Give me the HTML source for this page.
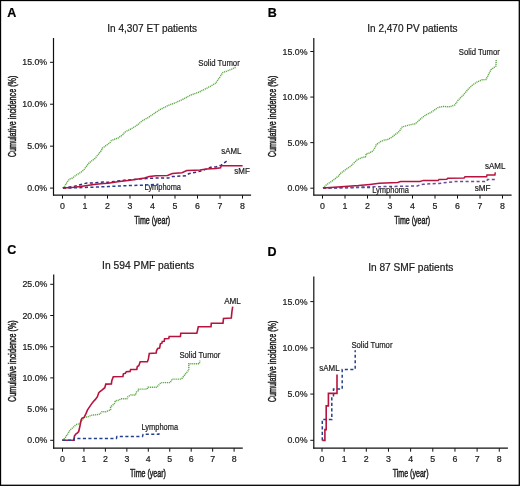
<!DOCTYPE html>
<html><head><meta charset="utf-8"><style>
html,body{margin:0;padding:0;background:#fff;}
svg{display:block;font-family:"Liberation Sans", sans-serif;-webkit-font-smoothing:antialiased;will-change:transform;}
</style></head><body>
<svg width="520" height="486" viewBox="0 0 520 486">
<rect x="0" y="0" width="520" height="486" fill="#fff"/>
<text x="7.3" y="16.8" font-size="12.5" text-anchor="start" fill="#000" font-weight="bold" stroke="#000" stroke-width="0.2">A</text>
<text x="107.3" y="31.9" font-size="10.1" text-anchor="start" fill="#1a1a1a" font-weight="normal" textLength="89.8" lengthAdjust="spacingAndGlyphs" stroke="#1a1a1a" stroke-width="0.2">In 4,307 ET patients</text>
<line x1="53.5" y1="38" x2="53.5" y2="195.6" stroke="#111" stroke-width="1.2"/>
<line x1="53.0" y1="195.1" x2="251.1" y2="195.1" stroke="#111" stroke-width="1.2"/>
<line x1="50.0" y1="188.1" x2="53.5" y2="188.1" stroke="#111" stroke-width="1.0"/>
<text x="47.2" y="191.2" font-size="8.8" text-anchor="end" fill="#1a1a1a" font-weight="normal" stroke="#1a1a1a" stroke-width="0.2">0.0%</text>
<line x1="50.0" y1="146.16666666666666" x2="53.5" y2="146.16666666666666" stroke="#111" stroke-width="1.0"/>
<text x="47.2" y="149.26666666666665" font-size="8.8" text-anchor="end" fill="#1a1a1a" font-weight="normal" stroke="#1a1a1a" stroke-width="0.2">5.0%</text>
<line x1="50.0" y1="104.23333333333332" x2="53.5" y2="104.23333333333332" stroke="#111" stroke-width="1.0"/>
<text x="47.2" y="107.33333333333331" font-size="8.8" text-anchor="end" fill="#1a1a1a" font-weight="normal" stroke="#1a1a1a" stroke-width="0.2">10.0%</text>
<line x1="50.0" y1="62.3" x2="53.5" y2="62.3" stroke="#111" stroke-width="1.0"/>
<text x="47.2" y="65.39999999999999" font-size="8.8" text-anchor="end" fill="#1a1a1a" font-weight="normal" stroke="#1a1a1a" stroke-width="0.2">15.0%</text>
<line x1="62.5" y1="195.1" x2="62.5" y2="198.6" stroke="#111" stroke-width="1.0"/>
<text x="62.5" y="209.2" font-size="8.8" text-anchor="middle" fill="#1a1a1a" font-weight="normal" stroke="#1a1a1a" stroke-width="0.2">0</text>
<line x1="85.0" y1="195.1" x2="85.0" y2="198.6" stroke="#111" stroke-width="1.0"/>
<text x="85.0" y="209.2" font-size="8.8" text-anchor="middle" fill="#1a1a1a" font-weight="normal" stroke="#1a1a1a" stroke-width="0.2">1</text>
<line x1="107.5" y1="195.1" x2="107.5" y2="198.6" stroke="#111" stroke-width="1.0"/>
<text x="107.5" y="209.2" font-size="8.8" text-anchor="middle" fill="#1a1a1a" font-weight="normal" stroke="#1a1a1a" stroke-width="0.2">2</text>
<line x1="130.0" y1="195.1" x2="130.0" y2="198.6" stroke="#111" stroke-width="1.0"/>
<text x="130.0" y="209.2" font-size="8.8" text-anchor="middle" fill="#1a1a1a" font-weight="normal" stroke="#1a1a1a" stroke-width="0.2">3</text>
<line x1="152.5" y1="195.1" x2="152.5" y2="198.6" stroke="#111" stroke-width="1.0"/>
<text x="152.5" y="209.2" font-size="8.8" text-anchor="middle" fill="#1a1a1a" font-weight="normal" stroke="#1a1a1a" stroke-width="0.2">4</text>
<line x1="175.0" y1="195.1" x2="175.0" y2="198.6" stroke="#111" stroke-width="1.0"/>
<text x="175.0" y="209.2" font-size="8.8" text-anchor="middle" fill="#1a1a1a" font-weight="normal" stroke="#1a1a1a" stroke-width="0.2">5</text>
<line x1="197.5" y1="195.1" x2="197.5" y2="198.6" stroke="#111" stroke-width="1.0"/>
<text x="197.5" y="209.2" font-size="8.8" text-anchor="middle" fill="#1a1a1a" font-weight="normal" stroke="#1a1a1a" stroke-width="0.2">6</text>
<line x1="220.0" y1="195.1" x2="220.0" y2="198.6" stroke="#111" stroke-width="1.0"/>
<text x="220.0" y="209.2" font-size="8.8" text-anchor="middle" fill="#1a1a1a" font-weight="normal" stroke="#1a1a1a" stroke-width="0.2">7</text>
<line x1="242.5" y1="195.1" x2="242.5" y2="198.6" stroke="#111" stroke-width="1.0"/>
<text x="242.5" y="209.2" font-size="8.8" text-anchor="middle" fill="#1a1a1a" font-weight="normal" stroke="#1a1a1a" stroke-width="0.2">8</text>
<text x="0" y="0" font-size="10.2" text-anchor="middle" fill="#1a1a1a" stroke="#1a1a1a" stroke-width="0.45" textLength="81.6" lengthAdjust="spacingAndGlyphs" transform="translate(16.3,116.4) rotate(-90)">Cumulative incidence (%)</text>
<text x="152.2" y="223.5" font-size="10.2" text-anchor="middle" fill="#1a1a1a" font-weight="normal" textLength="35.9" lengthAdjust="spacingAndGlyphs" stroke="#1a1a1a" stroke-width="0.45">Time (year)</text>
<text x="267.7" y="16.8" font-size="12.5" text-anchor="start" fill="#000" font-weight="bold" stroke="#000" stroke-width="0.2">B</text>
<text x="367.3" y="31.9" font-size="10.1" text-anchor="start" fill="#1a1a1a" font-weight="normal" textLength="90.2" lengthAdjust="spacingAndGlyphs" stroke="#1a1a1a" stroke-width="0.2">In 2,470 PV patients</text>
<line x1="313.8" y1="38" x2="313.8" y2="195.6" stroke="#111" stroke-width="1.2"/>
<line x1="313.3" y1="195.1" x2="511.6" y2="195.1" stroke="#111" stroke-width="1.2"/>
<line x1="310.3" y1="188.2" x2="313.8" y2="188.2" stroke="#111" stroke-width="1.0"/>
<text x="307.5" y="191.29999999999998" font-size="8.8" text-anchor="end" fill="#1a1a1a" font-weight="normal" stroke="#1a1a1a" stroke-width="0.2">0.0%</text>
<line x1="310.3" y1="142.63333333333333" x2="313.8" y2="142.63333333333333" stroke="#111" stroke-width="1.0"/>
<text x="307.5" y="145.73333333333332" font-size="8.8" text-anchor="end" fill="#1a1a1a" font-weight="normal" stroke="#1a1a1a" stroke-width="0.2">5.0%</text>
<line x1="310.3" y1="97.06666666666666" x2="313.8" y2="97.06666666666666" stroke="#111" stroke-width="1.0"/>
<text x="307.5" y="100.16666666666666" font-size="8.8" text-anchor="end" fill="#1a1a1a" font-weight="normal" stroke="#1a1a1a" stroke-width="0.2">10.0%</text>
<line x1="310.3" y1="51.5" x2="313.8" y2="51.5" stroke="#111" stroke-width="1.0"/>
<text x="307.5" y="54.6" font-size="8.8" text-anchor="end" fill="#1a1a1a" font-weight="normal" stroke="#1a1a1a" stroke-width="0.2">15.0%</text>
<line x1="322.5" y1="195.1" x2="322.5" y2="198.6" stroke="#111" stroke-width="1.0"/>
<text x="322.5" y="209.2" font-size="8.8" text-anchor="middle" fill="#1a1a1a" font-weight="normal" stroke="#1a1a1a" stroke-width="0.2">0</text>
<line x1="345.0" y1="195.1" x2="345.0" y2="198.6" stroke="#111" stroke-width="1.0"/>
<text x="345.0" y="209.2" font-size="8.8" text-anchor="middle" fill="#1a1a1a" font-weight="normal" stroke="#1a1a1a" stroke-width="0.2">1</text>
<line x1="367.5" y1="195.1" x2="367.5" y2="198.6" stroke="#111" stroke-width="1.0"/>
<text x="367.5" y="209.2" font-size="8.8" text-anchor="middle" fill="#1a1a1a" font-weight="normal" stroke="#1a1a1a" stroke-width="0.2">2</text>
<line x1="390.0" y1="195.1" x2="390.0" y2="198.6" stroke="#111" stroke-width="1.0"/>
<text x="390.0" y="209.2" font-size="8.8" text-anchor="middle" fill="#1a1a1a" font-weight="normal" stroke="#1a1a1a" stroke-width="0.2">3</text>
<line x1="412.5" y1="195.1" x2="412.5" y2="198.6" stroke="#111" stroke-width="1.0"/>
<text x="412.5" y="209.2" font-size="8.8" text-anchor="middle" fill="#1a1a1a" font-weight="normal" stroke="#1a1a1a" stroke-width="0.2">4</text>
<line x1="435.0" y1="195.1" x2="435.0" y2="198.6" stroke="#111" stroke-width="1.0"/>
<text x="435.0" y="209.2" font-size="8.8" text-anchor="middle" fill="#1a1a1a" font-weight="normal" stroke="#1a1a1a" stroke-width="0.2">5</text>
<line x1="457.5" y1="195.1" x2="457.5" y2="198.6" stroke="#111" stroke-width="1.0"/>
<text x="457.5" y="209.2" font-size="8.8" text-anchor="middle" fill="#1a1a1a" font-weight="normal" stroke="#1a1a1a" stroke-width="0.2">6</text>
<line x1="480.0" y1="195.1" x2="480.0" y2="198.6" stroke="#111" stroke-width="1.0"/>
<text x="480.0" y="209.2" font-size="8.8" text-anchor="middle" fill="#1a1a1a" font-weight="normal" stroke="#1a1a1a" stroke-width="0.2">7</text>
<line x1="502.5" y1="195.1" x2="502.5" y2="198.6" stroke="#111" stroke-width="1.0"/>
<text x="502.5" y="209.2" font-size="8.8" text-anchor="middle" fill="#1a1a1a" font-weight="normal" stroke="#1a1a1a" stroke-width="0.2">8</text>
<text x="0" y="0" font-size="10.2" text-anchor="middle" fill="#1a1a1a" stroke="#1a1a1a" stroke-width="0.45" textLength="81.6" lengthAdjust="spacingAndGlyphs" transform="translate(276.3,116.4) rotate(-90)">Cumulative incidence (%)</text>
<text x="412.2" y="223.5" font-size="10.2" text-anchor="middle" fill="#1a1a1a" font-weight="normal" textLength="35.9" lengthAdjust="spacingAndGlyphs" stroke="#1a1a1a" stroke-width="0.45">Time (year)</text>
<text x="7.3" y="253.7" font-size="12.5" text-anchor="start" fill="#000" font-weight="bold" stroke="#000" stroke-width="0.2">C</text>
<text x="102.10000000000001" y="268.6" font-size="10.1" text-anchor="start" fill="#1a1a1a" font-weight="normal" textLength="92.0" lengthAdjust="spacingAndGlyphs" stroke="#1a1a1a" stroke-width="0.2">In 594 PMF patients</text>
<line x1="53.7" y1="274.5" x2="53.7" y2="448.7" stroke="#111" stroke-width="1.2"/>
<line x1="53.2" y1="448.2" x2="242.8" y2="448.2" stroke="#111" stroke-width="1.2"/>
<line x1="50.2" y1="440.3" x2="53.7" y2="440.3" stroke="#111" stroke-width="1.0"/>
<text x="47.400000000000006" y="443.40000000000003" font-size="8.8" text-anchor="end" fill="#1a1a1a" font-weight="normal" stroke="#1a1a1a" stroke-width="0.2">0.0%</text>
<line x1="50.2" y1="409.1" x2="53.7" y2="409.1" stroke="#111" stroke-width="1.0"/>
<text x="47.400000000000006" y="412.20000000000005" font-size="8.8" text-anchor="end" fill="#1a1a1a" font-weight="normal" stroke="#1a1a1a" stroke-width="0.2">5.0%</text>
<line x1="50.2" y1="377.9" x2="53.7" y2="377.9" stroke="#111" stroke-width="1.0"/>
<text x="47.400000000000006" y="381.0" font-size="8.8" text-anchor="end" fill="#1a1a1a" font-weight="normal" stroke="#1a1a1a" stroke-width="0.2">10.0%</text>
<line x1="50.2" y1="346.7" x2="53.7" y2="346.7" stroke="#111" stroke-width="1.0"/>
<text x="47.400000000000006" y="349.8" font-size="8.8" text-anchor="end" fill="#1a1a1a" font-weight="normal" stroke="#1a1a1a" stroke-width="0.2">15.0%</text>
<line x1="50.2" y1="315.5" x2="53.7" y2="315.5" stroke="#111" stroke-width="1.0"/>
<text x="47.400000000000006" y="318.6" font-size="8.8" text-anchor="end" fill="#1a1a1a" font-weight="normal" stroke="#1a1a1a" stroke-width="0.2">20.0%</text>
<line x1="50.2" y1="284.3" x2="53.7" y2="284.3" stroke="#111" stroke-width="1.0"/>
<text x="47.400000000000006" y="287.40000000000003" font-size="8.8" text-anchor="end" fill="#1a1a1a" font-weight="normal" stroke="#1a1a1a" stroke-width="0.2">25.0%</text>
<line x1="62.5" y1="448.2" x2="62.5" y2="451.7" stroke="#111" stroke-width="1.0"/>
<text x="62.5" y="462.3" font-size="8.8" text-anchor="middle" fill="#1a1a1a" font-weight="normal" stroke="#1a1a1a" stroke-width="0.2">0</text>
<line x1="83.95" y1="448.2" x2="83.95" y2="451.7" stroke="#111" stroke-width="1.0"/>
<text x="83.95" y="462.3" font-size="8.8" text-anchor="middle" fill="#1a1a1a" font-weight="normal" stroke="#1a1a1a" stroke-width="0.2">1</text>
<line x1="105.4" y1="448.2" x2="105.4" y2="451.7" stroke="#111" stroke-width="1.0"/>
<text x="105.4" y="462.3" font-size="8.8" text-anchor="middle" fill="#1a1a1a" font-weight="normal" stroke="#1a1a1a" stroke-width="0.2">2</text>
<line x1="126.85" y1="448.2" x2="126.85" y2="451.7" stroke="#111" stroke-width="1.0"/>
<text x="126.85" y="462.3" font-size="8.8" text-anchor="middle" fill="#1a1a1a" font-weight="normal" stroke="#1a1a1a" stroke-width="0.2">3</text>
<line x1="148.3" y1="448.2" x2="148.3" y2="451.7" stroke="#111" stroke-width="1.0"/>
<text x="148.3" y="462.3" font-size="8.8" text-anchor="middle" fill="#1a1a1a" font-weight="normal" stroke="#1a1a1a" stroke-width="0.2">4</text>
<line x1="169.75" y1="448.2" x2="169.75" y2="451.7" stroke="#111" stroke-width="1.0"/>
<text x="169.75" y="462.3" font-size="8.8" text-anchor="middle" fill="#1a1a1a" font-weight="normal" stroke="#1a1a1a" stroke-width="0.2">5</text>
<line x1="191.2" y1="448.2" x2="191.2" y2="451.7" stroke="#111" stroke-width="1.0"/>
<text x="191.2" y="462.3" font-size="8.8" text-anchor="middle" fill="#1a1a1a" font-weight="normal" stroke="#1a1a1a" stroke-width="0.2">6</text>
<line x1="212.65" y1="448.2" x2="212.65" y2="451.7" stroke="#111" stroke-width="1.0"/>
<text x="212.65" y="462.3" font-size="8.8" text-anchor="middle" fill="#1a1a1a" font-weight="normal" stroke="#1a1a1a" stroke-width="0.2">7</text>
<line x1="234.1" y1="448.2" x2="234.1" y2="451.7" stroke="#111" stroke-width="1.0"/>
<text x="234.1" y="462.3" font-size="8.8" text-anchor="middle" fill="#1a1a1a" font-weight="normal" stroke="#1a1a1a" stroke-width="0.2">8</text>
<text x="0" y="0" font-size="10.2" text-anchor="middle" fill="#1a1a1a" stroke="#1a1a1a" stroke-width="0.45" textLength="81.6" lengthAdjust="spacingAndGlyphs" transform="translate(16.3,361.1) rotate(-90)">Cumulative incidence (%)</text>
<text x="148" y="476.5" font-size="10.2" text-anchor="middle" fill="#1a1a1a" font-weight="normal" textLength="35.9" lengthAdjust="spacingAndGlyphs" stroke="#1a1a1a" stroke-width="0.45">Time (year)</text>
<text x="267.5" y="255.6" font-size="12.5" text-anchor="start" fill="#000" font-weight="bold" stroke="#000" stroke-width="0.2">D</text>
<text x="368.2" y="270.8" font-size="10.1" text-anchor="start" fill="#1a1a1a" font-weight="normal" textLength="85.1" lengthAdjust="spacingAndGlyphs" stroke="#1a1a1a" stroke-width="0.2">In 87 SMF patients</text>
<line x1="313.8" y1="276.4" x2="313.8" y2="448.7" stroke="#111" stroke-width="1.2"/>
<line x1="313.3" y1="448.2" x2="507.9" y2="448.2" stroke="#111" stroke-width="1.2"/>
<line x1="310.3" y1="440.3" x2="313.8" y2="440.3" stroke="#111" stroke-width="1.0"/>
<text x="307.5" y="443.40000000000003" font-size="8.8" text-anchor="end" fill="#1a1a1a" font-weight="normal" stroke="#1a1a1a" stroke-width="0.2">0.0%</text>
<line x1="310.3" y1="394.06666666666666" x2="313.8" y2="394.06666666666666" stroke="#111" stroke-width="1.0"/>
<text x="307.5" y="397.1666666666667" font-size="8.8" text-anchor="end" fill="#1a1a1a" font-weight="normal" stroke="#1a1a1a" stroke-width="0.2">5.0%</text>
<line x1="310.3" y1="347.83333333333337" x2="313.8" y2="347.83333333333337" stroke="#111" stroke-width="1.0"/>
<text x="307.5" y="350.9333333333334" font-size="8.8" text-anchor="end" fill="#1a1a1a" font-weight="normal" stroke="#1a1a1a" stroke-width="0.2">10.0%</text>
<line x1="310.3" y1="301.6" x2="313.8" y2="301.6" stroke="#111" stroke-width="1.0"/>
<text x="307.5" y="304.70000000000005" font-size="8.8" text-anchor="end" fill="#1a1a1a" font-weight="normal" stroke="#1a1a1a" stroke-width="0.2">15.0%</text>
<line x1="322.0" y1="448.2" x2="322.0" y2="451.7" stroke="#111" stroke-width="1.0"/>
<text x="322.0" y="462.3" font-size="8.8" text-anchor="middle" fill="#1a1a1a" font-weight="normal" stroke="#1a1a1a" stroke-width="0.2">0</text>
<line x1="344.16" y1="448.2" x2="344.16" y2="451.7" stroke="#111" stroke-width="1.0"/>
<text x="344.16" y="462.3" font-size="8.8" text-anchor="middle" fill="#1a1a1a" font-weight="normal" stroke="#1a1a1a" stroke-width="0.2">1</text>
<line x1="366.32" y1="448.2" x2="366.32" y2="451.7" stroke="#111" stroke-width="1.0"/>
<text x="366.32" y="462.3" font-size="8.8" text-anchor="middle" fill="#1a1a1a" font-weight="normal" stroke="#1a1a1a" stroke-width="0.2">2</text>
<line x1="388.48" y1="448.2" x2="388.48" y2="451.7" stroke="#111" stroke-width="1.0"/>
<text x="388.48" y="462.3" font-size="8.8" text-anchor="middle" fill="#1a1a1a" font-weight="normal" stroke="#1a1a1a" stroke-width="0.2">3</text>
<line x1="410.64" y1="448.2" x2="410.64" y2="451.7" stroke="#111" stroke-width="1.0"/>
<text x="410.64" y="462.3" font-size="8.8" text-anchor="middle" fill="#1a1a1a" font-weight="normal" stroke="#1a1a1a" stroke-width="0.2">4</text>
<line x1="432.8" y1="448.2" x2="432.8" y2="451.7" stroke="#111" stroke-width="1.0"/>
<text x="432.8" y="462.3" font-size="8.8" text-anchor="middle" fill="#1a1a1a" font-weight="normal" stroke="#1a1a1a" stroke-width="0.2">5</text>
<line x1="454.96000000000004" y1="448.2" x2="454.96000000000004" y2="451.7" stroke="#111" stroke-width="1.0"/>
<text x="454.96000000000004" y="462.3" font-size="8.8" text-anchor="middle" fill="#1a1a1a" font-weight="normal" stroke="#1a1a1a" stroke-width="0.2">6</text>
<line x1="477.12" y1="448.2" x2="477.12" y2="451.7" stroke="#111" stroke-width="1.0"/>
<text x="477.12" y="462.3" font-size="8.8" text-anchor="middle" fill="#1a1a1a" font-weight="normal" stroke="#1a1a1a" stroke-width="0.2">7</text>
<line x1="499.28" y1="448.2" x2="499.28" y2="451.7" stroke="#111" stroke-width="1.0"/>
<text x="499.28" y="462.3" font-size="8.8" text-anchor="middle" fill="#1a1a1a" font-weight="normal" stroke="#1a1a1a" stroke-width="0.2">8</text>
<text x="0" y="0" font-size="10.2" text-anchor="middle" fill="#1a1a1a" stroke="#1a1a1a" stroke-width="0.45" textLength="81.6" lengthAdjust="spacingAndGlyphs" transform="translate(276.3,361.4) rotate(-90)">Cumulative incidence (%)</text>
<text x="410.6" y="476.5" font-size="10.2" text-anchor="middle" fill="#1a1a1a" font-weight="normal" textLength="35.9" lengthAdjust="spacingAndGlyphs" stroke="#1a1a1a" stroke-width="0.45">Time (year)</text>
<path d="M62.9,188.1 L74.4,187.8 L88.8,187.3 L108.0,186.6 L127.2,185.6 L141.7,185.2 L158.4,184.3" fill="none" stroke="#23408c" stroke-width="1.5" stroke-dasharray="3.1 2.4" stroke-linejoin="miter"/>
<path d="M62.8,187.9 L64.8,186.3 L66.9,182.4 L69.4,179.1 L72.5,178.0 L75.2,175.8 L81.8,171.7 L84.2,169.3 L89.2,162.7 L94.9,158.6 L101.5,150.3 L102.3,148.2 L109.7,142.9 L111.4,140.5 L118.0,138.0 L122.9,134.7 L124.6,132.2 L131.1,128.9 L137.7,124.8 L142.0,120.9 L148.1,117.6 L154.1,113.5 L160.2,109.5 L168.3,105.4 L176.3,102.4 L183.4,99.0 L188.5,96.3 L191.5,94.7 L198.6,92.3 L204.6,89.3 L209.7,86.7 L215.7,83.2 L219.8,77.2 L222.8,72.5 L226.8,71.1 L231.9,69.1 L235.9,67.1" fill="none" stroke="#5ea946" stroke-width="1.45" stroke-dasharray="1.15 0.75" stroke-linejoin="miter"/>
<path d="M62.9,188.1 L74.4,186.3 L79.2,184.9 L86.9,183.0 L93.7,183.0 L103.3,182.0 L108.0,182.3 L122.4,180.4 L136.8,179.2 L146.5,178.5 L156.0,178.1 L168.5,178.1 L172.3,176.6 L185.8,175.7 L188.7,173.8 L196.4,172.1 L200.0,171.2 L206.3,169.1 L210.6,167.3 L215.9,167.0 L221.2,165.2 L224.3,162.8 L228.6,159.6" fill="none" stroke="#3e2a7c" stroke-width="1.5" stroke-dasharray="3.1 2.4" stroke-linejoin="miter"/>
<path d="M62.9,188.1 L74.4,187.3 L84.0,185.9 L93.7,184.4 L103.3,183.5 L108.0,183.3 L117.6,181.8 L132.0,179.9 L144.5,178.0 L149.3,176.5 L156.0,175.7 L167.5,175.4 L172.3,173.5 L182.0,172.8 L186.8,170.6 L194.5,170.2 L200.0,170.0 L206.3,169.1 L215.9,168.4 L220.6,167.8 L221.2,165.7 L242.6,165.7" fill="none" stroke="#b8123e" stroke-width="1.5" stroke-linejoin="miter"/>
<path d="M323.0,188.1 L326.1,185.0 L333.0,180.4 L338.8,175.8 L340.0,173.8 L346.2,169.2 L350.8,166.2 L353.8,163.1 L356.9,160.0 L361.5,157.7 L365.4,156.9 L366.2,153.8 L369.2,153.1 L373.1,150.8 L375.4,146.9 L376.2,144.6 L380.8,141.5 L384.6,140.0 L387.7,139.5 L392.3,136.9 L395.4,134.3 L399.2,131.5 L402.3,126.9 L407.7,125.4 L410.8,124.6 L415.4,123.8 L419.9,119.5 L424.8,115.5 L431.3,112.2 L437.9,107.6 L442.8,106.5 L450.1,106.8 L455.0,104.8 L458.3,99.9 L464.0,94.2 L468.1,89.3 L472.2,85.2 L477.1,82.0 L482.0,79.8 L486.1,79.5 L488.5,74.6 L491.0,69.7 L495.9,66.1 L496.2,59.9" fill="none" stroke="#5ea946" stroke-width="1.45" stroke-dasharray="1.15 0.75" stroke-linejoin="miter"/>
<path d="M323.0,188.1 L371.5,187.4" fill="none" stroke="#23408c" stroke-width="1.5" stroke-dasharray="3.1 2.4" stroke-linejoin="miter"/>
<path d="M323.0,188.1 L372.3,186.8 L417.3,186.0 L420.8,184.6 L423.5,184.2 L439.0,183.4 L454.6,181.6 L486.6,181.6 L487.5,179.6 L496.3,179.6" fill="none" stroke="#6a4c98" stroke-width="1.5" stroke-dasharray="3.1 2.4" stroke-linejoin="miter"/>
<path d="M323.0,188.1 L341.1,186.7 L358.4,185.6 L369.9,184.4 L379.2,183.3 L397.7,182.5 L400.6,181.5 L420.0,181.4 L423.5,180.4 L438.2,180.4 L439.0,179.4 L446.8,179.2 L447.7,178.2 L464.1,178.0 L465.0,176.8 L486.6,176.8 L487.0,175.0 L494.9,175.0 L495.3,172.3" fill="none" stroke="#b8123e" stroke-width="1.5" stroke-linejoin="miter"/>
<path d="M62.4,440.3 L65.3,437.5 L68.0,433.5 L70.0,430.1 L74.0,426.6 L75.9,424.6 L79.9,423.6 L82.3,419.7 L84.8,417.2 L87.8,416.9 L91.7,415.2 L95.7,414.8 L100.0,414.1 L101.9,411.7 L105.8,411.7 L110.6,409.8 L110.6,406.9 L114.4,403.6 L115.4,400.7 L119.2,400.2 L120.7,398.8 L126.9,398.8 L127.9,396.8 L130.8,394.9 L135.6,394.9 L136.5,392.0 L138.5,390.6 L138.5,389.1 L147.1,389.1 L148.1,387.2 L156.7,387.2 L161.0,382.6 L170.2,382.6 L172.1,379.1 L181.4,379.1 L185.7,373.6 L188.8,369.9 L188.8,363.7 L199.3,363.7 L199.9,360.6" fill="none" stroke="#5ea946" stroke-width="1.45" stroke-dasharray="1.15 0.75" stroke-linejoin="miter"/>
<path d="M62.4,440.3 L74.0,440.3 L74.4,436.1 L75.8,434.1 L77.4,432.8 L78.7,431.5 L79.8,426.8 L81.1,420.1 L82.1,418.1 L84.1,417.4 L86.1,413.4 L87.4,410.1 L88.7,408.1 L91.4,404.1 L93.4,401.4 L95.4,399.4 L97.4,396.7 L98.8,392.7 L100.0,391.5 L101.9,390.1 L104.8,387.7 L105.8,384.1 L111.4,383.9 L111.8,380.6 L113.3,376.7 L122.9,376.5 L123.4,373.8 L125.3,373.4 L126.3,371.7 L130.1,371.4 L130.6,369.5 L136.8,369.5 L137.3,366.6 L138.8,365.7 L140.2,361.8 L147.4,361.8 L148.4,358.9 L149.3,353.4 L156.2,353.1 L156.5,350.8 L157.7,348.5 L159.6,348.1 L160.4,343.8 L161.9,343.1 L162.3,341.5 L164.2,341.2 L164.6,338.7 L168.8,338.5 L169.2,336.5 L180.4,336.5 L180.8,333.3 L196.8,333.1 L197.5,330.5 L198.3,326.7 L211.0,326.7 L211.3,323.3 L223.0,323.2 L223.5,318.5 L231.3,318.1 L231.9,311.9 L232.7,306.7" fill="none" stroke="#b8123e" stroke-width="1.6" stroke-linejoin="miter"/>
<path d="M62.4,440.3 L73.8,440.3 L74.1,438.5 L116.4,438.5 L116.9,436.5 L142.5,436.5 L143.1,434.4 L158.8,434.2 L159.2,433.2" fill="none" stroke="#23408c" stroke-width="1.5" stroke-dasharray="3.1 2.4" stroke-linejoin="miter"/>
<path d="M322.3,440.4 L322.3,419.4 L331.8,419.4 L331.8,398.0 L333.5,398.0 L333.5,389.1 L342.2,389.1 L342.2,369.4 L355.2,369.4 L355.2,350.2" fill="none" stroke="#23408c" stroke-width="1.5" stroke-dasharray="3.1 2.4" stroke-linejoin="miter"/>
<path d="M322.4,440.4 L324.9,440.4 L324.9,429.6 L326.2,429.6 L326.2,405.9 L328.4,405.9 L328.4,393.4 L337.0,393.4 L337.0,374.4" fill="none" stroke="#b8123e" stroke-width="1.6" stroke-linejoin="miter"/>
<text x="198.35" y="66.2" font-size="8.2" text-anchor="start" fill="#222" font-weight="normal" textLength="41.4" lengthAdjust="spacingAndGlyphs" stroke="#222" stroke-width="0.2">Solid Tumor</text>
<text x="221.35" y="153.9" font-size="8.2" text-anchor="start" fill="#222" font-weight="normal" textLength="20.1" lengthAdjust="spacingAndGlyphs" stroke="#222" stroke-width="0.2">sAML</text>
<text x="234.35" y="173.70000000000002" font-size="8.2" text-anchor="start" fill="#222" font-weight="normal" textLength="15.5" lengthAdjust="spacingAndGlyphs" stroke="#222" stroke-width="0.2">sMF</text>
<text x="144.55" y="190.20000000000002" font-size="8.2" text-anchor="start" fill="#222" font-weight="normal" textLength="36.4" lengthAdjust="spacingAndGlyphs" stroke="#222" stroke-width="0.2">Lymphoma</text>
<text x="458.84999999999997" y="55.199999999999996" font-size="8.2" text-anchor="start" fill="#222" font-weight="normal" textLength="41.0" lengthAdjust="spacingAndGlyphs" stroke="#222" stroke-width="0.2">Solid Tumor</text>
<text x="485.04999999999995" y="169.4" font-size="8.2" text-anchor="start" fill="#222" font-weight="normal" textLength="20.4" lengthAdjust="spacingAndGlyphs" stroke="#222" stroke-width="0.2">sAML</text>
<text x="474.65" y="191.0" font-size="8.2" text-anchor="start" fill="#222" font-weight="normal" textLength="15.9" lengthAdjust="spacingAndGlyphs" stroke="#222" stroke-width="0.2">sMF</text>
<text x="372.15" y="192.9" font-size="8.2" text-anchor="start" fill="#222" font-weight="normal" textLength="36.9" lengthAdjust="spacingAndGlyphs" stroke="#222" stroke-width="0.2">Lymphoma</text>
<text x="224.15" y="303.7" font-size="8.2" text-anchor="start" fill="#222" font-weight="normal" textLength="16.7" lengthAdjust="spacingAndGlyphs" stroke="#222" stroke-width="0.2">AML</text>
<text x="179.45000000000002" y="357.59999999999997" font-size="8.2" text-anchor="start" fill="#222" font-weight="normal" textLength="40.9" lengthAdjust="spacingAndGlyphs" stroke="#222" stroke-width="0.2">Solid Tumor</text>
<text x="141.45000000000002" y="429.59999999999997" font-size="8.2" text-anchor="start" fill="#222" font-weight="normal" textLength="36.6" lengthAdjust="spacingAndGlyphs" stroke="#222" stroke-width="0.2">Lymphoma</text>
<text x="351.45" y="347.7" font-size="8.2" text-anchor="start" fill="#222" font-weight="normal" textLength="41.0" lengthAdjust="spacingAndGlyphs" stroke="#222" stroke-width="0.2">Solid Tumor</text>
<text x="319.25" y="371.0" font-size="8.2" text-anchor="start" fill="#222" font-weight="normal" textLength="20.3" lengthAdjust="spacingAndGlyphs" stroke="#222" stroke-width="0.2">sAML</text>
<rect x="0.5" y="0.5" width="518.8" height="484.8" fill="none" stroke="#000" stroke-width="1.3"/>
</svg>
</body></html>
